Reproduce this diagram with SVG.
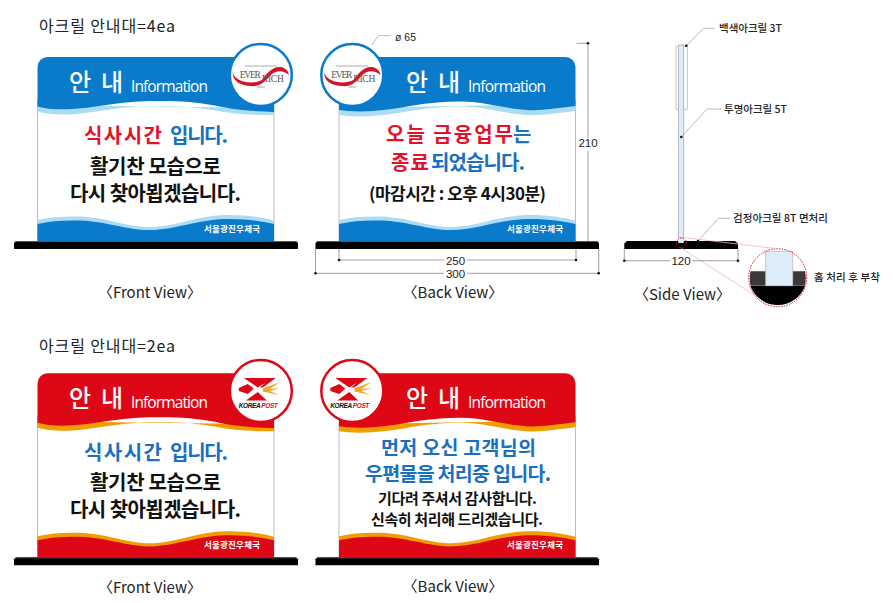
<svg xmlns="http://www.w3.org/2000/svg" width="893" height="603" viewBox="0 0 893 603">
<style>
text{font-family:"Noto Sans CJK KR","Noto Sans",sans-serif}
.title{font-size:16px;fill:#222}
.view{font-size:15px;fill:#222;text-anchor:middle}
.hd{font-size:24px;font-weight:500;fill:#fff}
.inf{font-size:15.5px;fill:#fff;font-family:"Open Sans","Noto Sans",sans-serif}
.b{font-size:20px;font-weight:700}
.ft{font-size:8.5px;font-weight:700;fill:#fff}
.k{fill:#111}.r{fill:#e5102a}.u{fill:#1a70c0}
.panel{fill:#fff;stroke:#bdbdbd;stroke-width:1}
.bl .m{fill:#0a7bcb}.bl .l{fill:#abdcf6}.bl .c{fill:#fff;stroke:#0a7bcb;stroke-width:2.5}
.rd .m{fill:#de0716}.rd .l{fill:#f39c00}.rd .c{fill:#fff;stroke:#de0716;stroke-width:2.5}
.base{fill:#000}.bt{fill:#555}
.ld{fill:none;stroke:#aaa;stroke-width:.8}
.dm{fill:none;stroke:#777;stroke-width:.7}
.dot{fill:#111}
.lb{font-size:10.500px;font-weight:500;fill:#222}
.dn{font-size:11.5px;fill:#222;text-anchor:middle;font-family:"Liberation Sans",sans-serif}
.pk{fill:none;stroke:#f2b8b8;stroke-width:.8}
.rc{stroke:#e5102a;stroke-width:1;stroke-dasharray:1.5 1.2}
.ev{font-family:"Liberation Serif",serif;font-size:9.5px;fill:#555}
.kp{font-family:"Liberation Sans",sans-serif;font-size:6.5px;font-weight:700;font-style:italic}
</style>
<defs>
<path id="headF" d="M37.500 106.500V67a10 10 0 0 1 10-10H264a10 10 0 0 1 10 10V112C250 111 235 110 215 105.500C195 101.500 175 100.500 150 101C120 102 105 105.500 85 108C65 110 50 110 37.500 106.500Z"/>
<path id="headFL" d="M37.500 105V111.500C50 115 65 115.500 85 113C105 110.500 120 107 150 106C175 105.500 195 106.500 215 110.500C235 114 250 115 274 115V108Z"/>
<path id="headB" d="M37.500 110V67a10 10 0 0 1 10-10H264a10 10 0 0 1 10 10V106C255 108 240 111 225 110C200 108 185 102 160 101.500C135 101 115 105 90 109C70 112 50 112 37.500 110Z"/>
<path id="headBL" d="M37.500 108V115C50 117 70 117 90 114C115 110 135 106 160 106.500C185 107 200 113 225 115C240 116 255 113 274 111V104Z"/>
<path id="footL" d="M37.500 220C50 217 65 216 80 216.500C110 218 125 227 150 227C175 227 195 216 225 215C245 214.500 260 217 274 220.500V230H37.500Z"/>
<path id="footM" d="M37.500 224C50 221 65 220 80 220.500C110 222 125 230 150 230C175 230 195 220 225 219C245 218.500 260 221 274 224V241H37.500Z"/>
<path id="swoosh" d="M-28-3C-27 7-8 10 1 5C6-1 12-10 22-7.500C26-6 28-3 28 0C22-6 14-4 10 0C4 7-1 12-10 11C-20 11-29 6-28-3Z"/>
<path id="kmark" d="M-17-13H12L-3-3.500ZM-15 9.500H6L-3 1ZM-22-3L-13-7L-7-2.500L-13 3L-22 0ZM10-13L15-13L2-3.500L-1-3.500Z"/>
<path id="kchev" d="M2-2.500L19-9L9-2L20-3L9 0L18 4L2 0.500Z"/>
</defs>

<text class="title" x="39" y="32" textLength="136">아크릴 안내대=4ea</text>
<text class="title" x="39" y="352" textLength="136">아크릴 안내대=2ea</text>

<g id="sign-front-blue" class="bl">
<rect class="panel" x="37.500" y="100" width="236.500" height="141"/>
<use href="#headFL" class="l"/><use href="#headF" class="m"/>
<use href="#footL" class="l"/><use href="#footM" class="m"/>
<path class="base" d="M16 241H296L298 243V249H14V243Z"/><rect class="bt" x="16" y="241" width="280" height="1"/>
<text class="hd" x="69" y="91" textLength="54">안 내</text>
<text class="inf" x="131" y="92" textLength="77">Information</text>
<text class="b r" x="84" y="143" textLength="78">식사시간</text><text class="b u" x="170" y="143" textLength="58">입니다.</text>
<text class="b k" x="90" y="174" textLength="131">활기찬 모습으로</text>
<text class="b k" x="70" y="201" textLength="171">다시 찾아뵙겠습니다.</text>
<text class="ft" x="204" y="232" textLength="56">서울광진우체국</text>
<g transform="translate(260.800 75)">
<circle class="c" r="31"/>
<path d="M-16-9H16M-4 12H4" stroke="#aaa" stroke-width="1" fill="none"/>
<use href="#swoosh" fill="#d3152a"/>
<text class="ev" x="-21" y="3" textLength="21">EVER</text><text class="ev" x="1" y="7" textLength="22">RICH</text>
</g>
</g>

<g id="sign-back-blue" class="bl">
<g transform="translate(301.500 0)">
<rect class="panel" x="37.500" y="100" width="236.500" height="141"/>
<use href="#headBL" class="l"/><use href="#headB" class="m"/>
<use href="#footL" class="l"/><use href="#footM" class="m"/>
</g>
<path class="base" d="M317.500 241H597L599 243V249H315.500V243Z"/><rect class="bt" x="317.500" y="241" width="279.500" height="1"/>
<text class="hd" x="406" y="91" textLength="54">안 내</text>
<text class="inf" x="468" y="92" textLength="78">Information</text>
<text class="b r" x="386" y="142" textLength="127">오늘 금융업무</text><text class="b u" x="513" y="142" textLength="17">는</text>
<text class="b r" x="391" y="170" textLength="38">종료</text><text class="b u" x="431" y="170" textLength="94">되었습니다.</text>
<text class="k" x="369" y="200" font-size="17" font-weight="700" textLength="177">(마감시간 : 오후 4시30분)</text>
<text class="ft" x="507" y="232" textLength="56">서울광진우체국</text>
<g transform="translate(352.300 75)">
<circle class="c" r="31"/>
<path d="M-16-9H16M-4 12H4" stroke="#aaa" stroke-width="1" fill="none"/>
<use href="#swoosh" fill="#d3152a"/>
<text class="ev" x="-21" y="3" textLength="21">EVER</text><text class="ev" x="1" y="7" textLength="22">RICH</text>
</g>
</g>

<g id="side-view">
<rect x="676" y="46.700" width="11.300" height="62.600" fill="#fff" stroke="#bbb" stroke-width=".8"/>
<rect x="678.300" y="45" width="5.400" height="193" fill="#dcecf8" stroke="#aaa" stroke-width=".8"/>
<path class="base" d="M627 241H735L738 243.500V249H624.300V243.500Z"/>
<rect x="678.300" y="238" width="5.400" height="5" fill="#dcecf8"/>
<circle class="rc" cx="681.300" cy="243" r="5" fill="none"/>
</g>

<g id="detail-zoom">
<circle cx="777.700" cy="277.700" r="29" fill="#fff"/>
<path d="M750.500 271.300H765.700V285.700H750.500Q749 278 750.500 271.300ZM792.700 271.300H805Q806.500 278 805 285.700H792.700Z" fill="#3a3a3a"/>
<path d="M750.500 286H805A29 29 0 0 1 750.500 286Z" fill="#000"/>
<path d="M765.700 251.300H792.700V285.700H765.700Z" fill="#dcecf8" stroke="#aaa" stroke-width=".6"/>
<circle class="rc" cx="777.700" cy="277.700" r="29" fill="none"/>
</g>

<g id="sign-front-red" class="rd">
<g transform="translate(0 316.300)">
<rect class="panel" x="37.500" y="100" width="236.500" height="141"/>
<use href="#headFL" class="l"/><use href="#headF" class="m"/>
<use href="#footL" class="l"/><use href="#footM" class="m"/>
<path class="base" d="M16 241H296L298 243V249H14V243Z"/><rect class="bt" x="16" y="241" width="280" height="1"/>
<text class="hd" x="69" y="91" textLength="54">안 내</text>
<text class="inf" x="131" y="92" textLength="77">Information</text>
<text class="b u" x="84" y="144" textLength="78">식사시간</text><text class="b u" x="170" y="144" textLength="58">입니다.</text>
<text class="b k" x="90" y="174" textLength="131">활기찬 모습으로</text>
<text class="b k" x="70" y="201" textLength="171">다시 찾아뵙겠습니다.</text>
<text class="ft" x="204" y="232" textLength="56">서울광진우체국</text>
</g>
<g transform="translate(260.800 391)">
<circle class="c" r="31"/>
<use href="#kmark" fill="#de0716"/><use href="#kchev" fill="#f5a623"/>
<text class="kp" x="-22" y="17" fill="#111" textLength="39">KOREA <tspan fill="#de0716">POST</tspan></text>
</g>
</g>

<g id="sign-back-red" class="rd">
<g transform="translate(301.500 316.300)">
<rect class="panel" x="37.500" y="100" width="236.500" height="141"/>
<use href="#headBL" class="l"/><use href="#headB" class="m"/>
<use href="#footL" class="l"/><use href="#footM" class="m"/>
</g>
<path class="base" d="M317.500 557.300H597L599 559.300V565.300H315.500V559.300Z"/><rect class="bt" x="317.500" y="557.300" width="279.500" height="1"/>
<text class="hd" x="406" y="407" textLength="54">안 내</text>
<text class="inf" x="468" y="408" textLength="78">Information</text>
<text class="u" x="381" y="455" font-size="19.5" font-weight="700" textLength="155">먼저 오신 고객님의</text>
<text class="u" x="365" y="481" font-size="19.5" font-weight="700" textLength="186">우편물을 처리중 입니다.</text>
<text class="k" x="378" y="504" font-size="15" font-weight="700" textLength="159">기다려 주셔서 감사합니다.</text>
<text class="k" x="371" y="525" font-size="15" font-weight="700" textLength="172">신속히 처리해 드리겠습니다.</text>
<text class="ft" x="507" y="548" textLength="56">서울광진우체국</text>
<g transform="translate(352.300 391)">
<circle class="c" r="31"/>
<use href="#kmark" fill="#de0716"/><use href="#kchev" fill="#f5a623"/>
<text class="kp" x="-22" y="17" fill="#111" textLength="39">KOREA <tspan fill="#de0716">POST</tspan></text>
</g>
</g>

<g id="connectors">
<path class="ld" d="M371.700 45L378.300 35.700H390"/>
<path class="ld" d="M686.300 45.700L703.300 28.300H715M681.300 137L707 109H722M698 241L718.300 218.300H730"/>
<path class="pk" d="M685 237.700L776.700 248.700M681.700 248.300L756.700 296.700"/>
<path class="dm" d="M576.700 43.300H588V241M315.500 249V273.300M598.700 249V273.300M339 249V260M576 249V260M339 260H444M467 260H576M315.500 273.300H444M467 273.300H598.700M624.300 249V260.700M738 249V260.700M624.300 260.700H670M692 260.700H738"/>
<g class="dot">
<circle cx="588" cy="43.300" r="1.300"/><circle cx="339" cy="260" r="1.300"/><circle cx="576" cy="260" r="1.300"/><circle cx="315.500" cy="273.300" r="1.300"/><circle cx="598.700" cy="273.300" r="1.300"/><circle cx="624.300" cy="260.700" r="1.300"/><circle cx="738" cy="260.700" r="1.300"/><circle cx="686.300" cy="45.700" r="1.300"/><circle cx="681.300" cy="137" r="1.300"/><circle cx="698" cy="241" r="1.300"/>
</g>
</g>

<g id="labels">
<text class="dn" x="405.500" y="41" style="font-size:10.5px">ø 65</text>
<rect x="578" y="138" width="20" height="13" fill="#fff"/>
<text class="dn" x="588" y="147">210</text>
<text class="dn" x="455.500" y="264.500">250</text>
<text class="dn" x="455.500" y="277.500">300</text>
<text class="dn" x="681" y="265">120</text>
<text class="lb" x="719" y="32" textLength="63">백색아크릴 3T</text>
<text class="lb" x="724" y="113" textLength="63">투명아크릴 5T</text>
<text class="lb" x="733" y="222" textLength="95">검정아크릴 8T 면처리</text>
<text class="lb" x="814" y="281" textLength="66">홈 처리 후 부착</text>
<text class="view" x="150" y="298">〈Front View〉</text>
<text class="view" x="453" y="298">〈Back View〉</text>
<text class="view" x="682.500" y="300">〈Side View〉</text>
<text class="view" x="150" y="593">〈Front View〉</text>
<text class="view" x="453" y="592">〈Back View〉</text>
</g>
</svg>
